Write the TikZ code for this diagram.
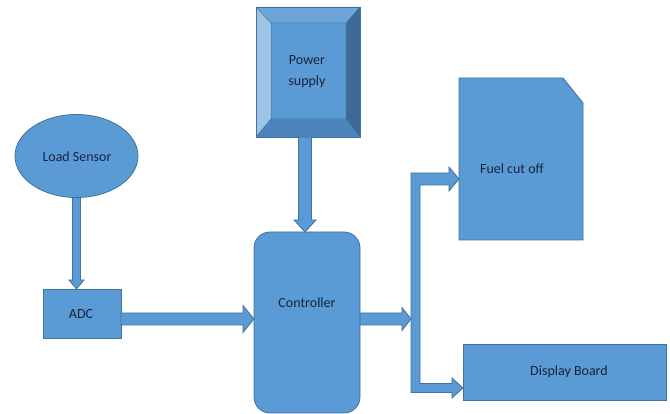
\documentclass[tikz,border=0pt]{standalone}
\usepackage{fontspec}
\setmainfont{Carlito}
\usetikzlibrary{calc,shapes.geometric}
\definecolor{fillb}{HTML}{5B9BD5}
\definecolor{edgeb}{HTML}{41719C}
\definecolor{txtb}{HTML}{17243A}
\definecolor{bevtop}{HTML}{6FA6DA}
\definecolor{bevleft}{HTML}{9DC3E6}
\definecolor{bevright}{HTML}{3E6A97}
\definecolor{bevbot}{HTML}{4E84BE}
\tikzset{
  blk/.style={fill=fillb,draw=edgeb,line width=0.8pt,line join=miter},
  boxstyle/.style={fill=fillb,draw=edgeb,line width=0.8pt,inner sep=0pt,outer sep=0pt},
  lbl/.style={text=txtb,font=\fontsize{14}{21}\selectfont,inner sep=0pt,align=center},
}
\newcommand\vdownarrow[5]{%
  \draw[blk] let \p1=(#1), \p2=(#2) in
    (\x1-#3pt,\y1) -- (\x1-#3pt,\y2+#5pt) -- (\x1-#4pt,\y2+#5pt) -- (\x1,\y2)
    -- (\x1+#4pt,\y2+#5pt) -- (\x1+#3pt,\y2+#5pt) -- (\x1+#3pt,\y1) -- cycle;}
\newcommand\hrightarrow[5]{%
  \draw[blk] let \p1=(#1), \p2=(#2) in
    (\x1,\y1+#3pt) -- (\x2-#5pt,\y1+#3pt) -- (\x2-#5pt,\y1+#4pt) -- (\x2,\y1)
    -- (\x2-#5pt,\y1-#4pt) -- (\x2-#5pt,\y1-#3pt) -- (\x1,\y1-#3pt) -- cycle;}
\begin{document}
\begin{tikzpicture}[x=1pt,y=-1pt]
\useasboundingbox[fill=white] (0,0) rectangle (670,414);

% Load sensor
\node[boxstyle,ellipse,minimum width=123pt,minimum height=83pt] (ls) at (76.5,156) {};
\node[lbl] (lst) at (77,157) {Load Sensor};

% ADC
\node[boxstyle,rectangle,minimum width=78pt,minimum height=49pt] (adc) at (82,313.5) {};
\node[lbl] (adct) at (81,314) {ADC};

% Power supply (bevel)
\node[rectangle,minimum width=104pt,minimum height=130pt,inner sep=0pt,outer sep=0pt] (ps) at (308,72) {};
\coordinate (pinw) at ($(ps.north west)+(15,16)$);
\coordinate (pine) at ($(ps.north east)+(-14,16)$);
\coordinate (pisw) at ($(ps.south west)+(15,-18)$);
\coordinate (pise) at ($(ps.south east)+(-14,-18)$);
\fill[bevtop] (ps.north west) -- (ps.north east) -- (pine) -- (pinw) -- cycle;
\fill[bevleft] (ps.north west) -- (pinw) -- (pisw) -- (ps.south west) -- cycle;
\fill[bevright] (ps.north east) -- (ps.south east) -- (pise) -- (pine) -- cycle;
\fill[bevbot] (ps.south west) -- (pisw) -- (pise) -- (ps.south east) -- cycle;
\fill[fillb] (pinw) rectangle (pise);
\draw[edgeb,line width=0.5pt] (ps.north west) -- (pinw) (ps.north east) -- (pine)
  (ps.south west) -- (pisw) (ps.south east) -- (pise) (pinw) rectangle (pise);
\draw[edgeb,line width=0.8pt] (ps.north west) rectangle (ps.south east);
\node[lbl] (pst) at (307,72) {Power\\supply};

% Controller
\node[boxstyle,rectangle,rounded corners=16pt,minimum width=106pt,minimum height=181pt] (ctrl) at (307,322.5) {};
\node[lbl] (ctrlt) at (307,303) {Controller};

% Fuel cut off (snipped corner)
\node[rectangle,minimum width=124pt,minimum height=162pt,inner sep=0pt,outer sep=0pt] (fuel) at (521,159) {};
\draw[blk] (fuel.north west) -- ($(fuel.north east)+(-20,0)$) -- ($(fuel.north east)+(0,25)$)
  -- (fuel.south east) -- (fuel.south west) -- cycle;
\node[lbl] (fuelt) at (512,169) {Fuel cut off};

% Display board
\node[boxstyle,rectangle,minimum width=203pt,minimum height=56pt] (disp) at (564.5,372) {};
\node[lbl] (dispt) at (569,372) {Display Board};

% Arrows
\vdownarrow{ls.south}{adc.north}{4}{7.5}{9}
\vdownarrow{$(ps.south)+(-3,0)$}{ctrl.north}{6.5}{11}{12}
\hrightarrow{$(adc.east)+(0,5.5)$}{ctrl.west}{6}{13.5}{11}
\coordinate (split) at (411,319);
\hrightarrow{$(ctrl.east)+(0,-3.5)$}{split}{6}{11.5}{9}

% Bracket splitting to Fuel cut off and Display board
\coordinate (ftip) at ($(fuel.west)+(0,20)$);
\coordinate (dtip) at ($(disp.west)+(0,16)$);
\draw[blk] let \p1=(split), \p2=(ftip), \p3=(dtip) in
  (\x1,\y2+6pt) -- (\x2-10pt,\y2+6pt) -- (\x2-10pt,\y2+12pt) -- (\x2,\y2)
  -- (\x2-10pt,\y2-12pt) -- (\x2-10pt,\y2-6pt) -- (\x1+9pt,\y2-6pt)
  -- (\x1+9pt,\y3+4.5pt) -- (\x3-11pt,\y3+4.5pt) -- (\x3-11pt,\y3+10pt) -- (\x3,\y3)
  -- (\x3-11pt,\y3-10pt) -- (\x3-11pt,\y3-4.5pt) -- (\x1,\y3-4.5pt) -- cycle;
\end{tikzpicture}
\end{document}
